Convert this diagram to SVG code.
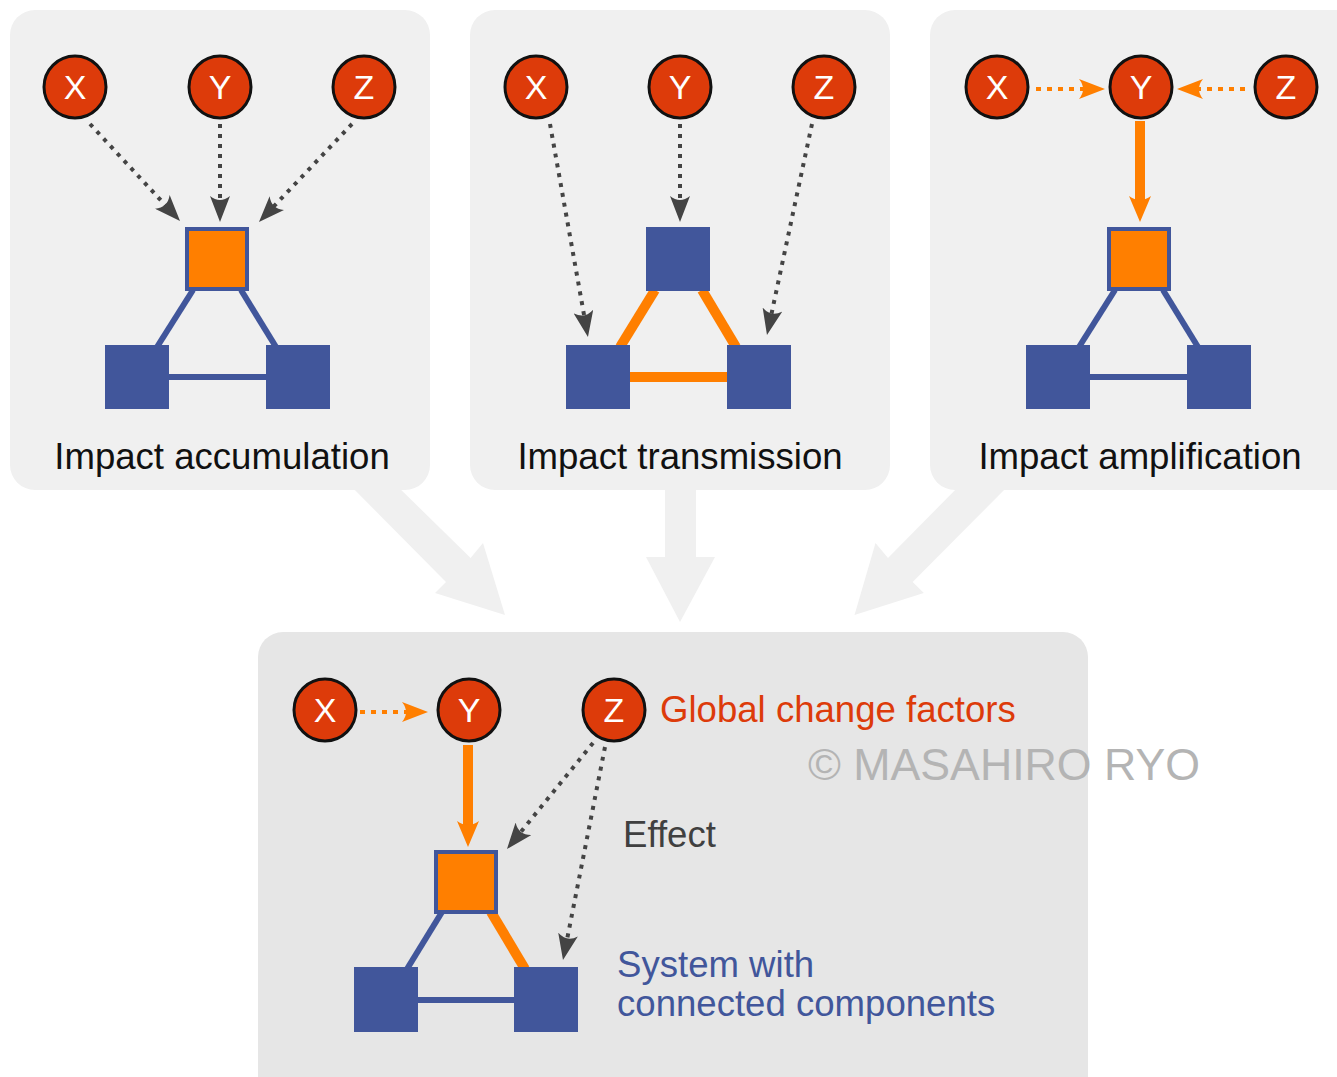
<svg xmlns="http://www.w3.org/2000/svg" width="1337" height="1077" viewBox="0 0 1337 1077">
<style>
.panel{fill:#f0f0f0}
.bpanel{fill:#e6e6e6}
.big{fill:#f0f0f0}
.fac circle{fill:#dd3b0a;stroke:#111;stroke-width:3}
.fac text{fill:#fff;font-family:"Liberation Sans",Arial,sans-serif;font-size:34px;text-anchor:middle}
.sq{fill:#41569b}
.sqo{fill:#ff7f00;stroke:#41569b;stroke-width:4}
.lb{stroke:#41569b;stroke-width:6;fill:none}
.lo{stroke:#ff7f00;stroke-width:10;fill:none}
.dg{stroke:#444;stroke-width:4;stroke-dasharray:4 6;fill:none;marker-end:url(#ahg)}
.do{stroke:#ff7f00;stroke-width:4;stroke-dasharray:5 6;fill:none;marker-end:url(#aho)}
.so{stroke:#ff7f00;stroke-width:10;fill:none;marker-end:url(#ahs)}
.lbl{font-family:"Liberation Sans",Arial,sans-serif;font-size:36.6px;fill:#111}
.txt{font-family:"Liberation Sans",Arial,sans-serif;font-size:36.6px}
</style>
<defs>
<marker id="ahg" markerUnits="userSpaceOnUse" viewBox="0 0 26 20" markerWidth="26" markerHeight="20" refX="12" refY="10" orient="auto"><path d="M0,0 L26,10 L0,20 Q8,10 0,0 Z" fill="#444"/></marker>
<marker id="aho" markerUnits="userSpaceOnUse" viewBox="0 0 26 20" markerWidth="26" markerHeight="20" refX="12" refY="10" orient="auto"><path d="M0,0 L26,10 L0,20 Q8,10 0,0 Z" fill="#ff7f00"/></marker>
<marker id="ahs" markerUnits="userSpaceOnUse" viewBox="0 0 26 22" markerWidth="26" markerHeight="22" refX="12" refY="11" orient="auto"><path d="M0,0 L26,11 L0,22 Q8,11 0,0 Z" fill="#ff7f00"/></marker>
</defs>
<rect width="1337" height="1077" fill="#fff"/>
<g id="big-arrows">
<polygon class="big" points="345,480 446,582 435,593 505,615 483,543 470.6,558 391,480"/>
<polygon class="big" points="665,480 665,557 646,557 680,622 715,557 696,557 696,480"/>
<polygon class="big" points="1014,480 912.6,582 923.8,593 854.5,615 875.5,543 888,558 965,480"/>
</g>
<g id="panels">
<rect class="panel" x="10" y="10" width="420" height="480" rx="25"/>
<rect class="panel" x="470" y="10" width="420" height="480" rx="25"/>
<rect class="panel" x="930" y="10" width="450" height="480" rx="25"/>
<rect class="bpanel" x="258" y="632" width="830" height="480" rx="25"/>
</g>
<g id="system-links">
<line class="lb" x1="193" y1="290" x2="157" y2="347"/>
<line class="lb" x1="241" y1="290" x2="276" y2="347"/>
<line class="lb" x1="169" y1="377" x2="266" y2="377"/>
<line class="lo" x1="655" y1="290" x2="620" y2="347"/>
<line class="lo" x1="702" y1="290" x2="736" y2="347"/>
<line class="lo" x1="630" y1="377" x2="727" y2="377"/>
<line class="lb" x1="1115" y1="290" x2="1079" y2="347"/>
<line class="lb" x1="1163" y1="290" x2="1198" y2="347"/>
<line class="lb" x1="1090" y1="377" x2="1187" y2="377"/>
<line class="lb" x1="442" y1="912" x2="407" y2="969"/>
<line class="lo" x1="491" y1="912" x2="525" y2="969"/>
<line class="lb" x1="418" y1="1000" x2="514" y2="1000"/>
</g>
<g id="connectors">
<line class="dg" x1="90" y1="124" x2="170.5" y2="210.7"/>
<line class="dg" x1="220" y1="124" x2="220" y2="208"/>
<line class="dg" x1="352" y1="124" x2="268.6" y2="211.8"/>
<line class="dg" x1="550" y1="124" x2="585.5" y2="323.2"/>
<line class="dg" x1="680" y1="124" x2="680" y2="208"/>
<line class="dg" x1="812" y1="124" x2="769.9" y2="321.3"/>
<line class="do" x1="1036" y1="89" x2="1091" y2="89"/>
<line class="do" x1="1245" y1="89" x2="1191" y2="89"/>
<line class="so" x1="1140" y1="121" x2="1140" y2="208"/>
<line class="do" x1="360" y1="712" x2="414" y2="712"/>
<line class="so" x1="468" y1="745" x2="468" y2="833"/>
<line class="dg" x1="593" y1="743" x2="515.8" y2="838.1"/>
<line class="dg" x1="605" y1="747" x2="565.7" y2="946.3"/>
</g>
<g id="panel1-system">
<rect class="sqo" x="187" y="229" width="60" height="60"/>
<rect class="sq" x="105" y="345" width="64" height="64"/>
<rect class="sq" x="266" y="345" width="64" height="64"/>
</g>
<g id="panel2-system">
<rect class="sq" x="646" y="227" width="64" height="64"/>
<rect class="sq" x="566" y="345" width="64" height="64"/>
<rect class="sq" x="727" y="345" width="64" height="64"/>
</g>
<g id="panel3-system">
<rect class="sqo" x="1109" y="229" width="60" height="60"/>
<rect class="sq" x="1026" y="345" width="64" height="64"/>
<rect class="sq" x="1187" y="345" width="64" height="64"/>
</g>
<g id="bottom-system">
<rect class="sqo" x="436" y="852" width="60" height="60"/>
<rect class="sq" x="354" y="967" width="64" height="65"/>
<rect class="sq" x="514" y="967" width="64" height="65"/>
</g>
<g id="p1-X" class="fac"><circle cx="75" cy="87" r="31"/><text x="75" y="99">X</text></g>
<g id="p1-Y" class="fac"><circle cx="220" cy="87" r="31"/><text x="220" y="99">Y</text></g>
<g id="p1-Z" class="fac"><circle cx="364" cy="87" r="31"/><text x="364" y="99">Z</text></g>
<g id="p2-X" class="fac"><circle cx="536" cy="87" r="31"/><text x="536" y="99">X</text></g>
<g id="p2-Y" class="fac"><circle cx="680" cy="87" r="31"/><text x="680" y="99">Y</text></g>
<g id="p2-Z" class="fac"><circle cx="824" cy="87" r="31"/><text x="824" y="99">Z</text></g>
<g id="p3-X" class="fac"><circle cx="997" cy="87" r="31"/><text x="997" y="99">X</text></g>
<g id="p3-Y" class="fac"><circle cx="1141" cy="87" r="31"/><text x="1141" y="99">Y</text></g>
<g id="p3-Z" class="fac"><circle cx="1286" cy="87" r="31"/><text x="1286" y="99">Z</text></g>
<g id="b-X" class="fac"><circle cx="325" cy="710" r="31"/><text x="325" y="722">X</text></g>
<g id="b-Y" class="fac"><circle cx="469" cy="710" r="31"/><text x="469" y="722">Y</text></g>
<g id="b-Z" class="fac"><circle cx="614" cy="710" r="31"/><text x="614" y="722">Z</text></g>
<g id="labels">
<text class="lbl" x="222" y="469" text-anchor="middle">Impact accumulation</text>
<text class="lbl" x="680" y="469" text-anchor="middle">Impact transmission</text>
<text class="lbl" x="1140" y="469" text-anchor="middle">Impact amplification</text>
<text class="txt" x="660" y="722" fill="#dd3b0a">Global change factors</text>
<text class="txt" x="623" y="847" fill="#404040">Effect</text>
<text class="txt" x="617" y="977" fill="#41569b">System with</text>
<text class="txt" x="617" y="1016" fill="#41569b">connected components</text>
<text x="808" y="780" font-family="'Liberation Sans',Arial,sans-serif" font-size="44" fill="#b4b4b4" textLength="392" lengthAdjust="spacingAndGlyphs">© MASAHIRO RYO</text>
</g>
</svg>
